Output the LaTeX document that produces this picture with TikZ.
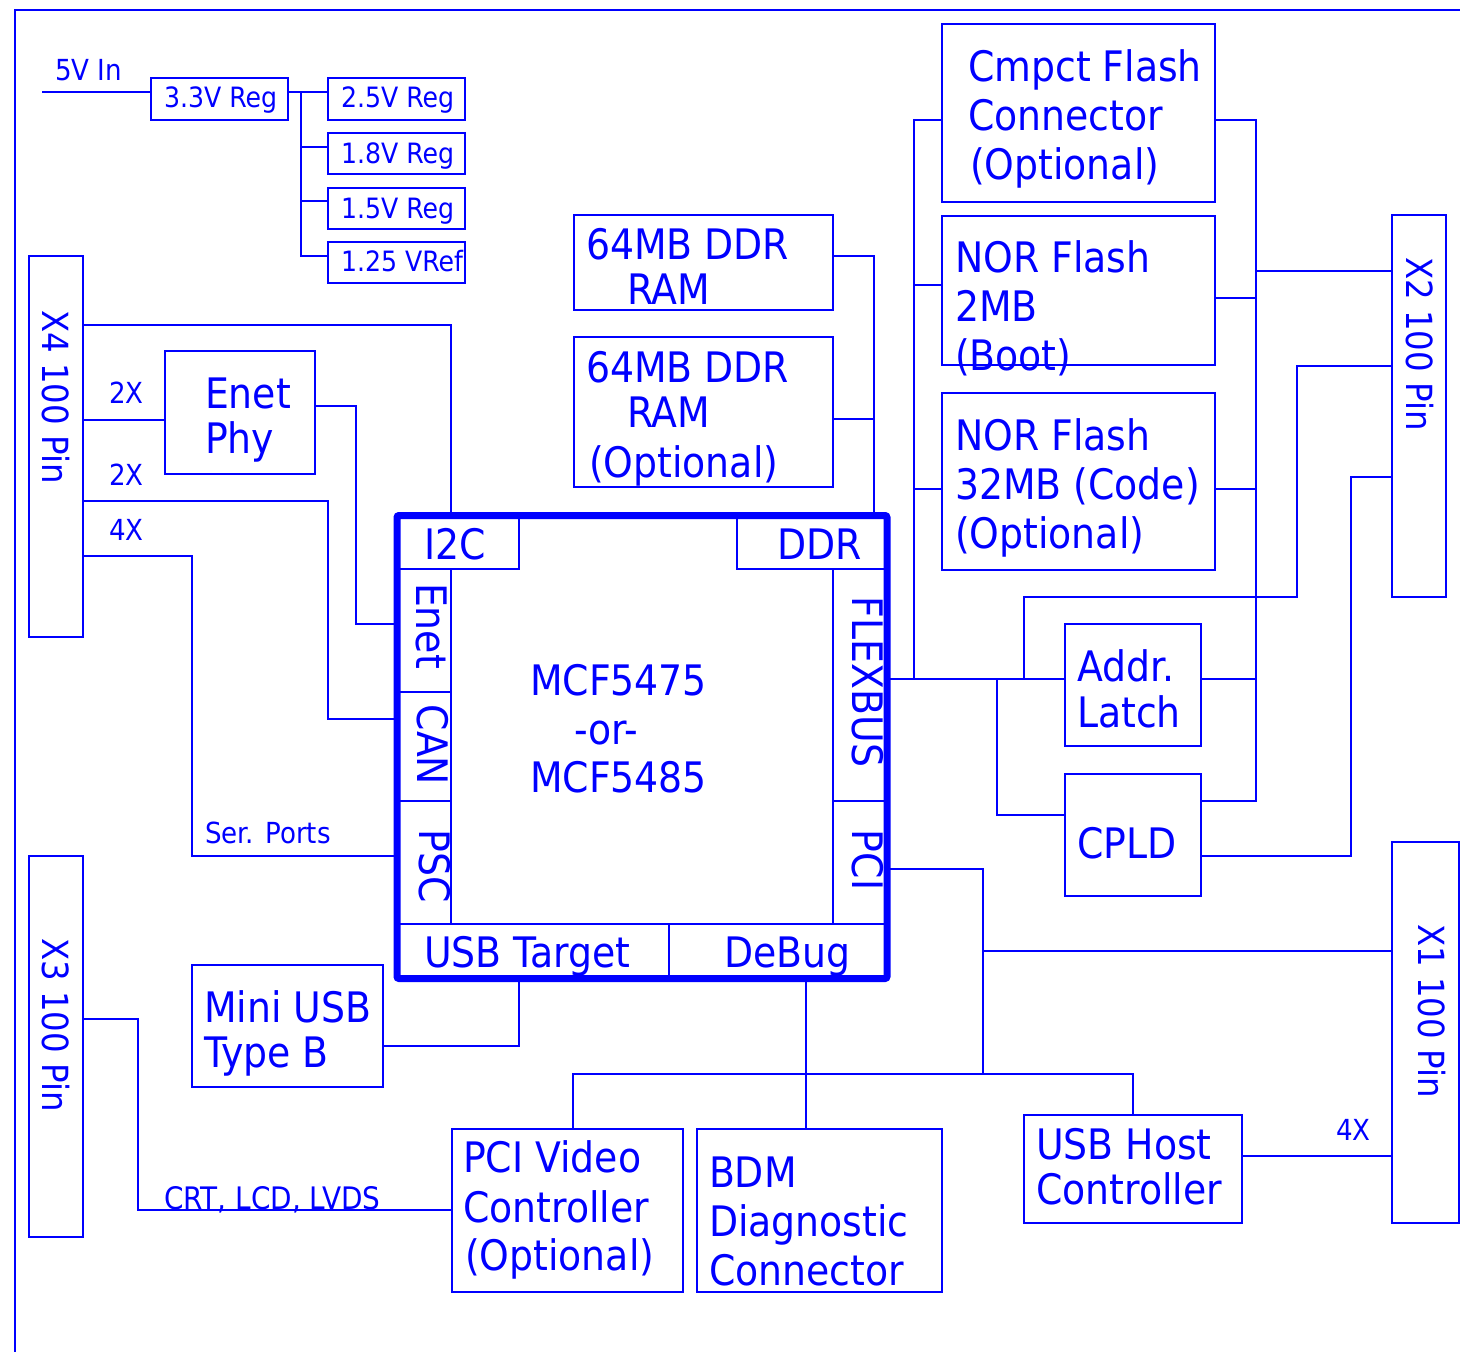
\documentclass[tikz,border=0pt]{standalone}
\usepackage{fontspec}
\setmainfont[FakeStretch=0.9]{DejaVu Sans}
\usetikzlibrary{fit}
\definecolor{ink}{RGB}{0,0,255}
\begin{document}
\begin{tikzpicture}[x=1pt,y=-1pt,
  box/.style={draw=ink, line width=1.4, inner sep=0, outer sep=0},
  chipbox/.style={draw=ink, line width=7, inner sep=0, outer sep=0, rounded corners=2},
  wire/.style={draw=ink, line width=1.3},
  big/.style={text=ink, inner sep=0, outer sep=0, anchor=base west, font=\fontsize{42}{50}\selectfont},
  side/.style={text=ink, inner sep=0, outer sep=0, anchor=center, rotate=-90, font=\fontsize{42}{50}\selectfont},
  small/.style={text=ink, inner sep=0, outer sep=0, anchor=base west, font=\fontsize{29}{35}\selectfont},
  regt/.style={text=ink, inner sep=0, outer sep=0, anchor=base west, font=\fontsize{28}{34}\selectfont},
  pin/.style={text=ink, inner sep=0, outer sep=0, anchor=center, rotate=-90, font=\fontsize{36}{44}\selectfont}]
\useasboundingbox (0,0) rectangle (1460,1352);
% outer frame
\draw[wire] (15,1352) -- (15,10) -- (1460,10);

% ---------- boxes ----------
\node[box, fit={(151,78) (288,120)}] (r33) {};
\node[box, fit={(328,78) (465,120)}] (r25) {};
\node[box, fit={(328,133) (465,174)}] (r18) {};
\node[box, fit={(328,188) (465,229)}] (r15) {};
\node[box, fit={(328,242) (465,283)}] (r125) {};
\node[box, fit={(29,256) (83,637)}] (x4) {};
\node[box, fit={(165,351) (315,474)}] (enetphy) {};
\node[box, fit={(574,215) (833,310)}] (ram1) {};
\node[box, fit={(574,337) (833,487)}] (ram2) {};
\node[box, fit={(942,24) (1215,202)}] (cf) {};
\node[box, fit={(942,216) (1215,365)}] (nor2) {};
\node[box, fit={(942,393) (1215,570)}] (nor32) {};
\node[box, fit={(1392,215) (1446,597)}] (x2) {};
\node[box, fit={(1065,624) (1201,746)}] (latch) {};
\node[box, fit={(1065,774) (1201,896)}] (cpld) {};
\node[box, fit={(1392,842) (1459,1223)}] (x1) {};
\node[box, fit={(1024,1115) (1242,1223)}] (usbhost) {};
\node[box, fit={(697,1129) (942,1292)}] (bdm) {};
\node[box, fit={(452,1129) (683,1292)}] (pcivid) {};
\node[box, fit={(192,965) (383,1087)}] (miniusb) {};
\node[box, fit={(29,856) (83,1237)}] (x3) {};
\node[chipbox, fit={(397,515.5) (887,978.5)}] (chip) {};

% chip inner partitions
\draw[wire] (400,569) -- (519,569) -- (519,518);
\draw[wire] (737,518) -- (737,569) -- (884,569);
\draw[wire] (451,569) -- (451,924);
\draw[wire] (400,692) -- (451,692);
\draw[wire] (400,801) -- (451,801);
\draw[wire] (833,569) -- (833,924);
\draw[wire] (833,801) -- (884,801);
\draw[wire] (400,924) -- (884,924);
\draw[wire] (669,924) -- (669,975);

% ---------- texts ----------
\node[small] (t-vin) at (55,80) {5V In};
\node[regt] (t-r33) at (164,107) {3.3V Reg};
\node[regt] (t-r25) at (341,107) {2.5V Reg};
\node[regt] (t-r18) at (341,163) {1.8V Reg};
\node[regt] (t-r15) at (341,218) {1.5V Reg};
\node[regt] (t-r125) at (341,271) {1.25 VRef};

\node[pin] (t-x4) at (56,397) {X4 100 Pin};
\node[pin] (t-x3) at (56,1025) {X3 100 Pin};
\node[pin] (t-x2) at (1420,344) {X2 100 Pin};
\node[pin] (t-x1) at (1432,1011) {X1 100 Pin};

\node[small] (t-2xa) at (109,403) {2X};
\node[small] (t-2xb) at (109,485) {2X};
\node[small] (t-4xa) at (109,540) {4X};
\node[small] (t-ser) at (205,843) {Ser. Ports};
\node[small, font=\fontsize{31}{36}\selectfont] (t-crt) at (164,1209) {CRT, LCD, LVDS};
\node[small] (t-4xb) at (1336,1140) {4X};

\node[big] (t-ep1) at (205,408) {Enet};
\node[big] (t-ep2) at (205,453) {Phy};

\node[big] (t-ra1) at (586,259) {64MB DDR};
\node[big] (t-ra2) at (627,304) {RAM};
\node[big] (t-rb1) at (586,382) {64MB DDR};
\node[big] (t-rb2) at (627,427) {RAM};
\node[big] (t-rb3) at (589,477) {(Optional)};

\node[big] (t-cf1) at (968,81) {Cmpct Flash};
\node[big] (t-cf2) at (968,130) {Connector};
\node[big] (t-cf3) at (970,179) {(Optional)};
\node[big] (t-na1) at (955,272) {NOR Flash};
\node[big] (t-na2) at (955,321) {2MB};
\node[big] (t-na3) at (955,370) {(Boot)};
\node[big] (t-nb1) at (955,450) {NOR Flash};
\node[big] (t-nb2) at (955,499) {32MB (Code)};
\node[big] (t-nb3) at (955,548) {(Optional)};

\node[big] (t-la1) at (1077,681) {Addr.};
\node[big] (t-la2) at (1077,727) {Latch};
\node[big] (t-cp) at (1077,858) {CPLD};

\node[big] (t-mu1) at (204,1022) {Mini USB};
\node[big] (t-mu2) at (204,1067) {Type B};
\node[big] (t-pv1) at (463,1172) {PCI Video};
\node[big] (t-pv2) at (463,1222) {Controller};
\node[big] (t-pv3) at (465,1270) {(Optional)};
\node[big] (t-bd1) at (709,1187) {BDM};
\node[big] (t-bd2) at (709,1236) {Diagnostic};
\node[big] (t-bd3) at (709,1285) {Connector};
\node[big] (t-uh1) at (1036,1159) {USB Host};
\node[big] (t-uh2) at (1036,1204) {Controller};

% chip texts
\node[big] (t-i2c) at (424,559) {I2C};
\node[big] (t-ddr) at (777,559) {DDR};
\node[big] (t-usbt) at (424,967) {USB Target};
\node[big] (t-dbg) at (724,967) {DeBug};
\node[big] (t-m1) at (530,695) {MCF5475};
\node[big] (t-m2) at (574,744) {-or-};
\node[big] (t-m3) at (530,792) {MCF5485};
\node[side] (t-enet) at (432,626) {Enet};
\node[side] (t-can) at (433,745) {CAN};
\node[side] (t-psc) at (435,866) {PSC};
\node[side] (t-flex) at (868,682) {FLEXBUS};
\node[side] (t-pci) at (868,860) {PCI};

% ---------- connectors ----------
\coordinate (vin) at (42,92);
\draw[wire] (vin) -- (r33.west |- vin);
\draw[wire] (r33.east |- vin) -- (r25.west |- vin);
\coordinate (regbus) at (301,92);
\draw[wire] (regbus) |- (r125.west |- 0,256);
\draw[wire] (301,147) -- (r18.west |- 0,147);
\draw[wire] (301,201) -- (r15.west |- 0,201);

\draw[wire] (x4.east |- 0,325) -| (451,0 |- chip.north);
\draw[wire] (x4.east |- 0,420) -- (enetphy.west |- 0,420);
\draw[wire] (enetphy.east |- 0,406) -| (356,624) -- (chip.west |- 0,624);
\draw[wire] (x4.east |- 0,501) -| (328,719) -- (chip.west |- 0,719);
\draw[wire] (x4.east |- 0,556) -| (192,856) -- (chip.west |- 0,856);

\draw[wire] (ram1.east |- 0,256) -| (874,0 |- chip.north);
\draw[wire] (ram2.east |- 0,419) -- (874,419);

\draw[wire] (chip.east |- 0,679) -- (latch.west |- 0,679);
\draw[wire] (cf.west |- 0,120) -| (914,679);
\draw[wire] (nor2.west |- 0,285) -- (914,285);
\draw[wire] (nor32.west |- 0,489) -- (914,489);

\draw[wire] (cf.east |- 0,120) -| (1256,801) -- (cpld.east |- 0,801);
\draw[wire] (nor2.east |- 0,298) -- (1256,298);
\draw[wire] (nor32.east |- 0,489) -- (1256,489);
\draw[wire] (latch.east |- 0,679) -- (1256,679);
\draw[wire] (1256,271) -- (x2.west |- 0,271);

\draw[wire] (1024,679) |- (1297,597) |- (x2.west |- 0,366);
\draw[wire] (997,679) |- (cpld.west |- 0,815);
\draw[wire] (cpld.east |- 0,856) -| (1351,477) -- (x2.west |- 0,477);

\draw[wire] (chip.east |- 0,869) -| (983,1074);
\draw[wire] (983,951) -- (x1.west |- 0,951);
\draw[wire] (573,0 |- pcivid.north) |- (1133,1074) -- (1133,0 |- usbhost.north);
\draw[wire] (806,0 |- chip.south) -- (806,0 |- bdm.north);
\draw[wire] (519,0 |- chip.south) |- (miniusb.east |- 0,1046);
\draw[wire] (usbhost.east |- 0,1156) -- (x1.west |- 0,1156);
\draw[wire] (x3.east |- 0,1019) -| (138,1210) -- (pcivid.west |- 0,1210);
\end{tikzpicture}
\end{document}
